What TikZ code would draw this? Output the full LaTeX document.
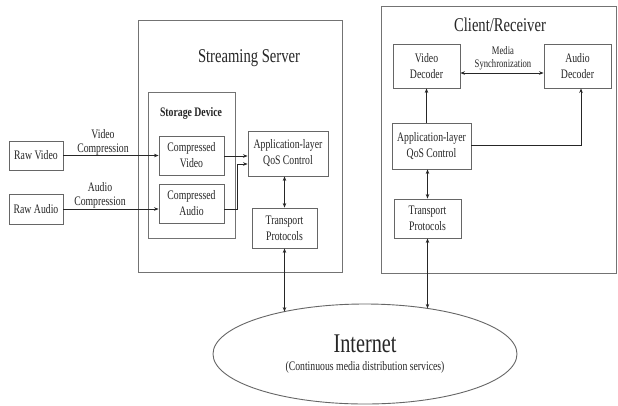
\documentclass[tikz,border=0pt]{standalone}
\usepackage{fontspec}
\setmainfont{Liberation Serif}[FakeStretch=0.75]
\usetikzlibrary{arrows.meta,calc,shapes.geometric}
\begin{document}
\begin{tikzpicture}[x=1pt,y=-1pt,
 box/.style={draw=black!60, line width=0.9pt, rectangle, inner sep=0pt, align=center, font=\fontsize{13}{16}\selectfont, text=black!85},
 cont/.style={draw=black!55, line width=1pt, rectangle, inner sep=0pt},
 conn/.style={draw=black!85, line width=0.7pt},
 arr/.style={conn, -{Stealth[length=4.5pt,width=3.5pt]}},
 darr/.style={conn, {Stealth[length=4.5pt,width=3.5pt]}-{Stealth[length=4.5pt,width=3.5pt]}},
 lbl/.style={align=center, inner sep=0pt, font=\fontsize{13}{14}\selectfont, text=black!85},
 ttl/.style={inner sep=0pt, font=\fontsize{19.5}{22}\selectfont, text=black!85}
]
\useasboundingbox[fill=white] (0,0) rectangle (618,405);

% containers
\node[cont, minimum width=204pt, minimum height=252pt] (server) at (240,146) {};
\node[cont, minimum width=87pt, minimum height=146pt] (storage) at (191.5,165) {};
\node[cont, minimum width=235pt, minimum height=267pt] (client) at (498.5,139.5) {};

% titles
\node[ttl] (stitle) at (249,58) {Streaming Server};
\node[ttl] (ctitle) at (500,25) {Client/Receiver};
\node[lbl, font=\bfseries\fontsize{13}{14}\selectfont] (stlabel) at (191,113) {Storage Device};

% server side boxes
\node[box, minimum width=54pt, minimum height=29pt] (rawv) at (36,155.5) {Raw Video};
\node[box, minimum width=54pt, minimum height=30pt] (rawa) at (36,209) {Raw Audio};
\node[box, minimum width=65pt, minimum height=39pt] (cvideo) at (191.5,155.5) {Compressed\\Video};
\node[box, minimum width=65pt, minimum height=39pt] (caudio) at (191.5,203.5) {Compressed\\Audio};
\node[box, minimum width=80pt, minimum height=45pt] (sqos) at (288,153.5) {Application-layer\\QoS Control};
\node[box, minimum width=65pt, minimum height=40pt] (stp) at (284.5,228) {Transport\\Protocols};

% client side boxes
\node[box, minimum width=67pt, minimum height=44pt] (vdec) at (426.5,66) {Video\\Decoder};
\node[box, minimum width=67pt, minimum height=44pt] (adec) at (577.5,66) {Audio\\Decoder};
\node[box, minimum width=79pt, minimum height=46pt] (cqos) at (431.5,146) {Application-layer\\QoS Control};
\node[box, minimum width=67pt, minimum height=39pt] (ctp) at (427.5,218.5) {Transport\\Protocols};

% internet
\node[ellipse, draw=black!60, line width=0.9pt, minimum width=304pt, minimum height=100pt, inner sep=0pt, align=center, text=black!85] (internet) at (365,354)
 {{\fontsize{27}{30}\selectfont Internet}\\[6pt]{\fontsize{13}{14}\selectfont (Continuous media distribution services)}};

% labels
\node[lbl] (vcomp) at (103,142) {Video\\Compression};
\node[lbl] (acomp) at (100,195) {Audio\\Compression};
\node[lbl, font=\fontsize{11.5}{13}\selectfont] (msync) at (503,58) {Media\\Synchronization};

% coordinates
\coordinate (sEnd) at (284.5,311.6);
\coordinate (cEnd) at (427.5,308.4);
\coordinate (aOut) at ($(caudio.east)+(0,5.5)$);
\coordinate (aIn) at ($(sqos.west)+(0,10.5)$);
\coordinate (vIn) at ($(sqos.west)+(0,2.5)$);
\coordinate (adIn) at ($(adec.south)+(3.5,0)$);
\coordinate (vdL) at ($(vdec.east)+(0,7)$);
\coordinate (adL) at ($(adec.west)+(0,7)$);
\coordinate (cqR) at ($(cqos.east)+(0,-1)$);

% connectors (server)
\draw[arr] (rawv.east) -- (cvideo.west);
\draw[arr] ($(rawa.east)$) -- (rawa.east -| caudio.west);
\draw[arr] (cvideo.east |- vIn) -- (vIn);
\draw[arr] (aOut) -- ++(13,0) |- (aIn);
\draw[darr] (stp.north) -- (stp.north |- sqos.south);
\draw[darr] (stp.south) -- (sEnd);

% connectors (client)
\draw[darr] (vdL) -- (adL);
\draw[arr] (cqos.north -| vdec.south) -- (vdec.south);
\draw[arr] (cqR) -| (adIn);
\draw[darr] (ctp.north) -- (ctp.north |- cqos.south);
\draw[darr] (ctp.south) -- (cEnd);
\end{tikzpicture}
\end{document}
